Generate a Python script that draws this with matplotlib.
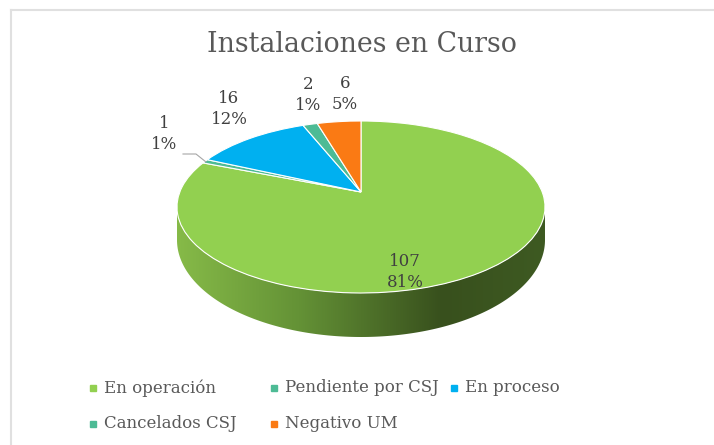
import numpy as np
import matplotlib
matplotlib.use('Agg')
import matplotlib.pyplot as plt
from matplotlib.colors import LinearSegmentedColormap
from matplotlib.patches import Polygon
from matplotlib.transforms import Transform

categories = ['En operación', 'Pendiente por CSJ', 'En proceso', 'Cancelados CSJ', 'Negativo UM']
values = [107, 1, 16, 2, 6]
percents = ['81%', '1%', '12%', '1%', '5%']
colors = ['#92d050', '#4dbb95', '#00b0f0', '#4dbb95', '#fa7a14']
title = 'Instalaciones en Curso'

TXT = '#595959'
CX, CY = 361, 207   # ellipse centre in pixels
RX, RY = 184, 86
SHIFT = 15          # where the pie centre lands above ellipse centre


class Tilt(Transform):
    # unit circle -> tilted disc, the centre moves up like in the excel 3d pie
    input_dims = 2
    output_dims = 2

    def transform_non_affine(self, xy):
        xy = np.asarray(xy, dtype=float)
        p = SHIFT / RY
        c = RX * np.sqrt(1 - p ** 2)
        d = 1 + p * xy[:, 1]
        return np.column_stack([CX + c * xy[:, 0] / d, CY - (RY * xy[:, 1] + SHIFT) / d])


plt.rcParams['font.family'] = 'DejaVu Serif'
fig = plt.figure(figsize=(7.14, 4.45), dpi=100)
ax = fig.add_axes([0, 0, 1, 1])

wedges, _ = ax.pie(values, colors=colors, startangle=90, counterclock=False,
                   wedgeprops={'edgecolor': 'white', 'linewidth': 0.8})
tilt = Tilt() + ax.transData
for w in wedges:
    w.set_transform(tilt)
    w.set_clip_on(False)
    w.set_zorder(3)

ax.set_aspect('auto')
ax.axis('off')

# side wall of the disc
t = np.linspace(0, np.pi, 200)
top_x = CX + RX * np.cos(t)
top_y = CY + RY * np.sin(t)
bot_x = CX + RX * np.cos(t[::-1])
bot_y = 240 + 97 * np.sin(t[::-1])
wall = Polygon(np.column_stack([np.r_[top_x, bot_x], np.r_[top_y, bot_y]]), closed=True,
               facecolor='none', edgecolor='none', transform=ax.transData)
ax.add_patch(wall)
cmap = LinearSegmentedColormap.from_list('wall', [(0, '#86ba48'), (0.33, '#649236'),
                                                  (0.72, '#38501d'), (1, '#3e5a22')])
im = ax.imshow(np.linspace(0, 1, 256)[None, :], cmap=cmap, extent=(177, 545, 345, 200),
               aspect='auto', zorder=2)
im.set_clip_path(wall)
ax.set_xlim(0, 714)
ax.set_ylim(445, 0)

# chart border, right side is cut off in the screenshot
ax.plot([11, 11], [10, 445], color='#e0e0e0', lw=1.5)
ax.plot([11, 714], [10, 10], color='#e0e0e0', lw=1.5)

ax.text(362, 44, title, ha='center', va='center', fontsize=19.3, color=TXT)

# data labels
label_xy = [(405, 272), (164, 134), (229, 109), (308, 95), (345, 94)]
for (x, y), v, pct in zip(label_xy, values, percents):
    ax.text(x, y, f'{v}\n{pct}', ha='center', va='center', fontsize=12,
            color='#404040', linespacing=1.3, zorder=5)
ax.plot([183, 196, 206], [154, 154, 162], color='#a6a6a6', lw=0.8, zorder=4)

# legend by hand, excel's columns are not evenly spaced
legend_xy = [(93, 388), (274, 388), (454, 388), (93, 424), (274, 424)]
for (x, y), name, col in zip(legend_xy, categories, colors):
    ax.plot(x, y, ls='', marker='s', ms=4, color=col)
    ax.text(x + 11, y, name, ha='left', va='center', fontsize=12, color=TXT)

fig.savefig('out.png', dpi=100)
